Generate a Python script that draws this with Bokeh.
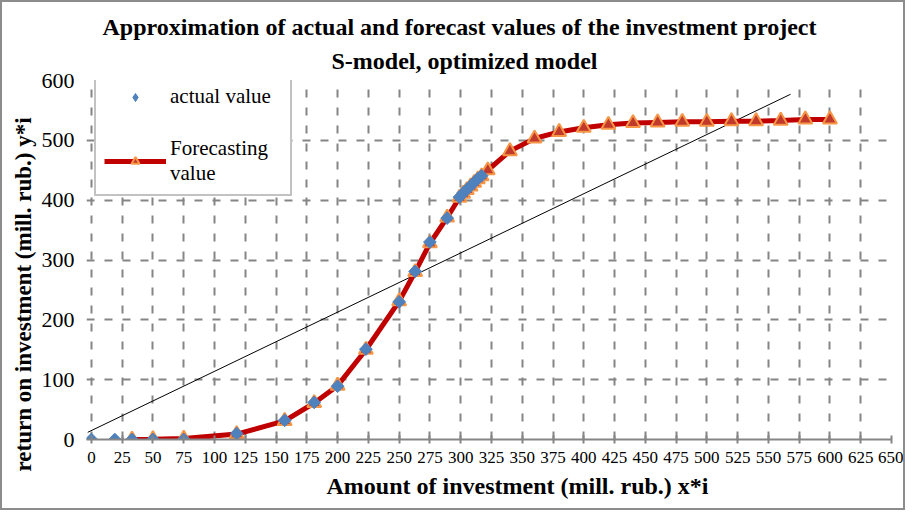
import math
from bokeh.plotting import figure
from bokeh.models import (ColumnDataSource, Legend, LegendItem, Title, FixedTicker,
                          Range1d)
from bokeh.embed import file_html
from bokeh.resources import INLINE

# ---- data ----
actual_x = [0, 19, 33, 50, 75, 118, 157, 181, 200, 223, 250, 263, 275, 289,
            299, 302, 305, 308, 311, 314, 317]
actual_y = [0, 0, 0, 0, 0, 10, 32, 62, 89, 151, 230, 281, 330, 370,
            405, 412, 418, 424, 430, 436, 441]

forecast_x = [33, 50, 75, 118, 157, 181, 200, 223, 250, 263, 275, 289,
              299, 302, 305, 308, 311, 314, 317, 322, 340, 360, 380, 400,
              420, 440, 460, 480, 500, 520, 540, 560, 580, 600]
forecast_y = [0, 0.5, 1.5, 9, 31, 61, 90, 150, 231, 280, 328, 371,
              404, 411, 417, 423, 429, 435, 440, 450, 482, 503, 514, 521,
              526, 529, 530, 531, 531, 532, 532, 533, 535, 535]

trend_x = [-3, 568]
trend_y = [12, 577]

x_ticks = list(range(0, 651, 25))
y_ticks = list(range(0, 601, 100))

title_line1 = "Approximation of actual and forecast values of the investment project"
title_line2 = "S-model, optimized model"
x_label = "Amount of investment (mill. rub.) x*i"
y_label = "return on investment (mill. rub.)  y*i"

SERIF = "Liberation Serif"
GRAY = "#858585"

p = figure(width=905, height=510, output_backend="svg", toolbar_location=None,
           x_range=Range1d(-4, 650), y_range=Range1d(0, 600),
           min_border_left=84, min_border_right=16, min_border_top=78,
           min_border_bottom=73)
p.styles = {"border": "2px solid #8c8c8c", "box-sizing": "border-box"}
p.outline_line_color = None
p.background_fill_color = "white"

t2 = Title(text=title_line2, align="left", offset=245,
           text_font=SERIF, text_font_size="24px", text_font_style="bold",
           text_color="black", standoff=13)
t1 = Title(text=title_line1, align="left", offset=16, text_font=SERIF,
           text_font_size="24px", text_font_style="bold", text_color="black",
           standoff=0)
p.add_layout(t2, "above")
p.add_layout(t1, "above")

# grids
p.xgrid.ticker = FixedTicker(ticks=x_ticks)
p.ygrid.ticker = FixedTicker(ticks=y_ticks)
for g in (p.xgrid, p.ygrid):
    g.grid_line_color = GRAY
    g.grid_line_width = 2
    g.grid_line_dash = "8 10"

# axes
p.xaxis.ticker = FixedTicker(ticks=x_ticks)
p.yaxis.ticker = FixedTicker(ticks=y_ticks)
for ax in (p.xaxis, p.yaxis):
    ax.major_tick_line_color = GRAY
    ax.major_tick_line_width = 2
    ax.minor_tick_line_color = None
    ax.major_label_text_font = SERIF
    ax.major_label_text_color = "black"
p.xaxis.axis_line_color = GRAY
p.xaxis.axis_line_width = 2
p.yaxis.axis_line_color = None
p.yaxis.major_tick_line_color = None
p.xaxis.major_tick_in = 4
p.xaxis.major_tick_out = 4
p.xaxis.major_label_text_font_size = "17px"
p.yaxis.major_label_text_font_size = "22px"
p.xaxis.major_label_standoff = 8
p.yaxis.major_label_standoff = 6

# axis titles placed as side-panel titles
xt = Title(text=x_label, align="left", offset=240, text_font=SERIF,
           text_font_size="24px", text_font_style="bold", text_color="black",
           standoff=10)
yt = Title(text=y_label, align="left", offset=-32, text_font=SERIF,
           text_font_size="23px", text_font_style="bold", text_color="black",
           standoff=6)
p.add_layout(xt, "below")
p.add_layout(yt, "left")

# series
src_a = ColumnDataSource(dict(x=actual_x, y=actual_y))
src_f = ColumnDataSource(dict(x=forecast_x, y=forecast_y))

trend = p.line(trend_x, trend_y, line_color="black", line_width=1)
fl = p.line("x", "y", source=src_f, line_color="#c00000", line_width=5)
fm = p.scatter("x", "y", source=src_f, marker="triangle", size=14,
               fill_color="#c0392b", line_color="#f79646", line_width=2)
am = p.scatter("x", "y", source=src_a, marker="square", size=9, angle=math.pi / 4,
               fill_color="#4f81bd", line_color="#4f81bd", line_width=1)
# legend proxy (diamond shape for legend swatch only)
am_proxy = p.scatter("x", "y", source=src_a, marker="diamond", size=20,
                     fill_color="#4f81bd", line_color="#4f81bd", visible=False)

legend = Legend(items=[LegendItem(label="actual value", renderers=[am_proxy]),
                       LegendItem(label="Forecasting\nvalue", renderers=[fl, fm])],
                location=(8, 243), margin=0, padding=8, spacing=27,
                glyph_width=62, glyph_height=20, label_standoff=4,
                label_width=112, label_text_font=SERIF, label_text_font_size="21px",
                label_text_color="black", border_line_color=GRAY,
                border_line_width=2, background_fill_color="white",
                background_fill_alpha=1.0, inactive_fill_alpha=0.0)
p.add_layout(legend, "center")

open("out.html", "w").write(file_html(p, INLINE))
